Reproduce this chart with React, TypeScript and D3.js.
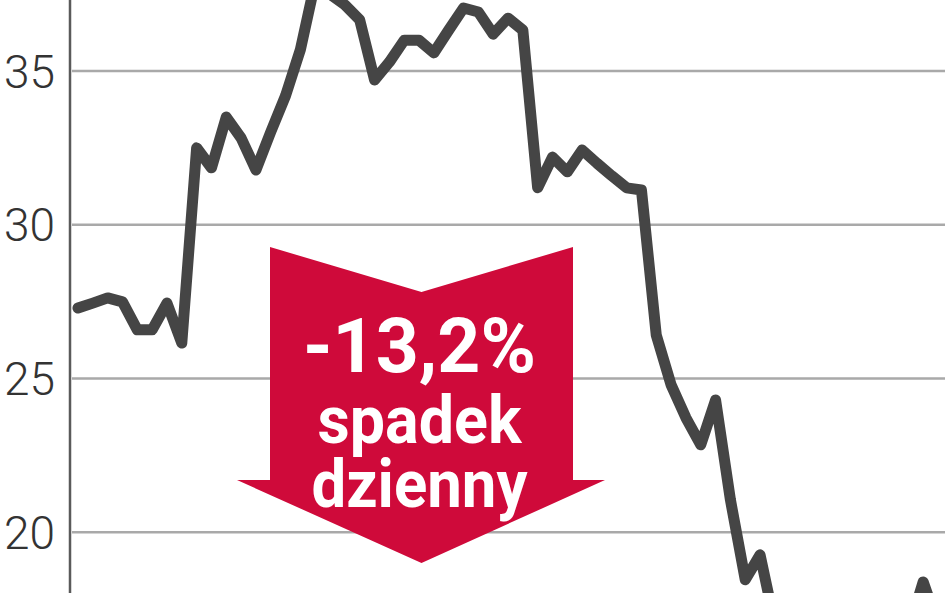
import { useEffect, useRef } from "react";
import * as d3 from "d3";

const W = 948;
const H = 593;
const LINE_COLOR = "#454545";
const GRID_COLOR = "#a9a9a9";
const AXIS_COLOR = "#5a5a5a";
const ARROW_RED = "#cf0a3a";

// y-axis ticks (zł)
const yTicks = [20, 25, 30, 35];

// daily closing price (left → right, one per session)
const closePrices = [
  27.29, 27.45, 27.62, 27.49, 26.58, 26.58, 27.45, 26.15, 32.5, 31.85,
  33.5, 32.82, 31.78, 33.02, 34.2, 35.7, 37.9, 37.5, 37.15, 36.66,
  34.71, 35.29, 36.0, 36.0, 35.59, 36.33, 37.05, 36.92, 36.2, 36.72,
  36.33, 31.2, 32.2, 31.72, 32.43, 32.0, 31.59, 31.2, 31.13, 26.41,
  24.79, 23.72, 22.84, 24.3, 21.05, 18.45, 19.26, 17.0, 16.5, 16.8,
  16.2, 16.6, 17.0, 16.4, 16.9, 16.6, 16.8, 18.38, 17.0,
];

const calloutLines = ["-13,2%", "spadek", "dzienny"];

function buildChart(svgEl: SVGSVGElement) {
  const svg = d3.select(svgEl);
  svg.selectAll("*").remove();
  svg.attr("width", W).attr("height", H);

  const x = d3.scaleLinear().domain([0, closePrices.length - 1]).range([78, 938]);
  const y = d3.scaleLinear().domain([18.02, 37.31]).range([H, 0]);

  svg.append("rect").attr("width", W).attr("height", H).attr("fill", "#fff");

  // gridlines
  svg.append("g")
    .selectAll("line")
    .data(yTicks)
    .join("line")
    .attr("x1", 72).attr("x2", 945)
    .attr("y1", d => y(d)).attr("y2", d => y(d))
    .attr("stroke", GRID_COLOR)
    .attr("stroke-width", 2.5);

  // y labels
  svg.append("g")
    .selectAll("text")
    .data(yTicks)
    .join("text")
    .attr("x", 55)
    .attr("y", d => y(d))
    .attr("dy", "0.36em")
    .attr("text-anchor", "end")
    .attr("fill", "#333")
    .style("font-family", "Roboto, Lato, 'DejaVu Sans', sans-serif")
    .style("font-weight", 300)
    .style("font-size", "46px")
    .text(d => d);

  // axis line
  svg.append("line")
    .attr("x1", 70).attr("x2", 70)
    .attr("y1", 0).attr("y2", H)
    .attr("stroke", AXIS_COLOR)
    .attr("stroke-width", 2.5);

  // callout arrow
  const ax = { l: 270, r: 573, top: 247, notch: 292, wing: 480, wl: 237, wr: 605, tip: 563 };
  const cx = (ax.l + ax.r) / 2;
  svg.append("path")
    .attr("d", `M${ax.l},${ax.top} L${cx},${ax.notch} L${ax.r},${ax.top} L${ax.r},${ax.wing} L${ax.wr},${ax.wing} L${cx},${ax.tip} L${ax.wl},${ax.wing} L${ax.l},${ax.wing} Z`)
    .attr("fill", ARROW_RED);

  const textSpecs = [
    { y: 372, size: 76, len: 233 },
    { y: 443, size: 66, len: 204 },
    { y: 507, size: 66, len: 216 },
  ];
  svg.append("g")
    .selectAll("text")
    .data(calloutLines)
    .join("text")
    .attr("x", cx - 2)
    .attr("y", (_, i) => textSpecs[i].y)
    .attr("text-anchor", "middle")
    .attr("fill", "#fff")
    .attr("textLength", (_, i) => textSpecs[i].len)
    .attr("lengthAdjust", "spacingAndGlyphs")
    .style("font-family", "Roboto, 'DejaVu Sans', sans-serif")
    .style("font-weight", 700)
    .style("font-size", (_, i) => `${textSpecs[i].size}px`)
    .text(d => d);

  // price line
  const line = d3.line<number>()
    .x((_, i) => x(i))
    .y(d => y(d));

  svg.append("path")
    .datum(closePrices)
    .attr("fill", "none")
    .attr("stroke", LINE_COLOR)
    .attr("stroke-width", 11)
    .attr("stroke-linejoin", "round")
    .attr("stroke-linecap", "round")
    .attr("d", line);
}

export default function App() {
  const svgRef = useRef<SVGSVGElement>(null);

  useEffect(() => {
    if (svgRef.current) buildChart(svgRef.current);
  }, []);

  return (
    <div style={{ position: "fixed", left: 0, top: 0, width: W, height: H, overflow: "hidden" }}>
      <svg ref={svgRef} style={{ display: "block" }} />
    </div>
  );
}
